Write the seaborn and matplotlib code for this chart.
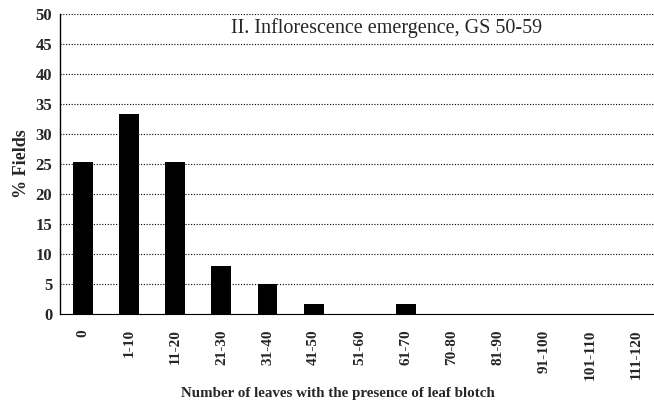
import numpy as np
import pandas as pd
import matplotlib
matplotlib.use("Agg")
import matplotlib.pyplot as plt
import seaborn as sns

# data
categories = ['0', '1-10', '11-20', '21-30', '31-40', '41-50', '51-60', '61-70',
              '70-80', '81-90', '91-100', '101-110', '111-120']
pct_fields = [25.4, 33.3, 25.4, 8.0, 5.0, 1.7, 0, 1.7, 0, 0, 0, 0, 0]
y_ticks = [0, 5, 10, 15, 20, 25, 30, 35, 40, 45, 50]

df = pd.DataFrame({'cat': categories, 'pct': pct_fields})

sns.set_style("white")
plt.rcParams['font.family'] = ['Liberation Serif', 'DejaVu Serif']

fig = plt.figure(figsize=(6.54, 4.08), dpi=100)
ax = fig.add_axes([60 / 654, 94 / 408, 1 - 60 / 654, 300 / 408])

sns.barplot(data=df, x='cat', y='pct', color='black', width=0.43,
            linewidth=0, saturation=1, ax=ax, zorder=3)

ax.set_ylim(0, 50)
ax.set_yticks(y_ticks)
ax.set_yticklabels([str(t) for t in y_ticks], fontweight='bold', fontsize=12)
ax.set_xlim(-0.5, 12.38)
ax.set_xticks(range(len(categories)))
ax.set_xticklabels(categories, rotation=90, fontweight='bold', fontsize=11)
ax.set_xticks(np.arange(0.5, len(categories) - 0.5, 1), minor=True)
ax.tick_params(axis='x', which='major', length=0, pad=11)
ax.tick_params(axis='x', which='minor', direction='inout', length=7, width=0.8, color='black')
ax.tick_params(axis='y', direction='inout', length=7, width=0.8, color='black', pad=2)

ax.yaxis.grid(True, linestyle=(0, (1, 1.5)), color='black', linewidth=0.8, zorder=0)
ax.xaxis.grid(False)
for s in ['top', 'right']:
    ax.spines[s].set_visible(False)
ax.spines['left'].set_color('black')
ax.spines['left'].set_linewidth(1.0)
ax.spines['bottom'].set_color('black')
ax.spines['bottom'].set_linewidth(0.8)
ax.spines['bottom'].set_linestyle((0, (2, 1)))

ax.set_ylabel('% Fields', fontweight='bold', fontsize=13, labelpad=4)
ax.set_xlabel('Number of leaves with the presence of leaf blotch',
              fontweight='bold', fontsize=10.8)
ax.xaxis.set_label_coords((338 - 60) / 594, -(393 - 314) / 300)
ax.xaxis.label.set_va('center')

ax.text((387 - 60) / 594, 0.953, 'II. Inflorescence emergence, GS 50-59', transform=ax.transAxes,
        ha='center', va='center', fontsize=14.5, zorder=5,
        bbox=dict(facecolor='white', edgecolor='none', pad=1))

fig.savefig('out.png', dpi=100)
